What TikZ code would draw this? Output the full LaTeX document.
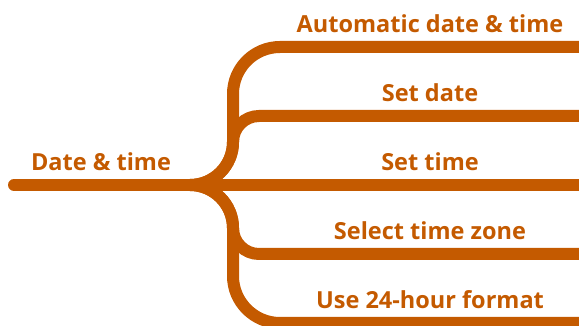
\documentclass[tikz,border=0pt]{standalone}
\usepackage{fontspec}
\setmainfont{Open Sans}
\usetikzlibrary{positioning}
\definecolor{Rust}{HTML}{C45A00}
\tikzset{
  branch/.style={draw=Rust, line width=12pt},
  leaflabel/.style={font=\fontsize{23.5}{27}\selectfont\bfseries, text=Rust, anchor=base, inner sep=0pt},
}

\begin{document}
\begin{tikzpicture}[x=1pt,y=1pt]
\useasboundingbox (0,0) rectangle (579,326);
\coordinate (start) at (14,141);
\coordinate (fork) at (190,141);
\coordinate (upbend) at (233,232);
\coordinate (downbend) at (233,50);
\node[leaflabel] (root) at (101,155) {Date \& time};
\foreach \n/\y/\txt in {auto/279/Automatic date \& time, date/210/Set date, time/141/Set time, zone/72/Select time zone, hour/3/Use 24-hour format}{
  \coordinate (\n-end) at (579,\y);
  \node[leaflabel] (\n) at (430,\y+14) {\txt};
}
% root stem
\draw[branch,line cap=round] (start) -- (fork);
\draw[branch] (fork) -- (time-end);
% upper branches
\draw[branch] (fork) arc[start angle=270,end angle=360,radius=43] -- (upbend)
  arc[start angle=180,end angle=90,radius=47] -- (auto-end);
\draw[branch] (fork) arc[start angle=270,end angle=360,radius=43]
  arc[start angle=180,end angle=90,radius=26] -- (date-end);
% lower branches
\draw[branch] (fork) arc[start angle=90,end angle=0,radius=43] -- (downbend)
  arc[start angle=180,end angle=270,radius=47] -- (hour-end);
\draw[branch] (fork) arc[start angle=90,end angle=0,radius=43]
  arc[start angle=180,end angle=270,radius=26] -- (zone-end);
\end{tikzpicture}
\end{document}
